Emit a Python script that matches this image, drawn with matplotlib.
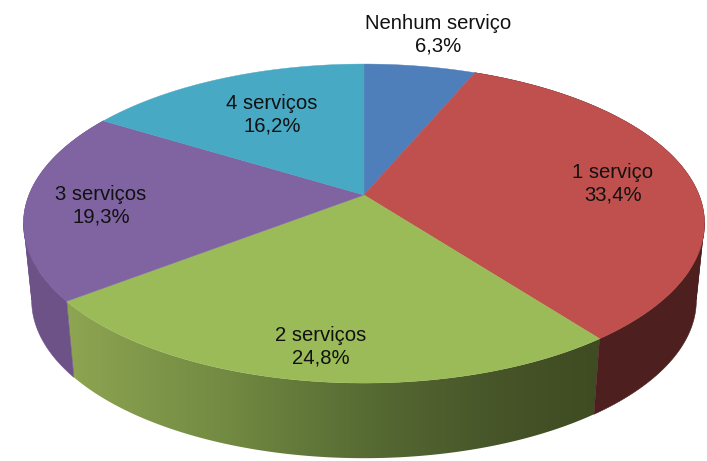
import numpy as np
import matplotlib
matplotlib.use('Agg')
import matplotlib.pyplot as plt
from matplotlib.colors import LinearSegmentedColormap
from matplotlib.patches import Polygon

plt.rcParams['font.family'] = ['Liberation Sans', 'DejaVu Sans']

categories = ['Nenhum serviço', '1 serviço', '2 serviços', '3 serviços', '4 serviços']
shares = [6.3, 33.4, 24.8, 19.3, 16.2]
share_labels = ['6,3%', '33,4%', '24,8%', '19,3%', '16,2%']
top_colors = ['#4f7fba', '#c0504d', '#9bbb59', '#8064a2', '#48a9c4']
label_pos = [(438, 35), (613, 184), (321, 347), (101, 206), (272, 115)]

# pie centre and perspective of the tilted disc, in pixels
cx, cy = 364, 195
k = 0.179
a = 154.4
b = 335.0
side_dx = 0.976
side_dy = 0.99
side_off = 77


def disc(theta):
    # theta clockwise from 12 o'clock, projected onto the tilted disc
    u = np.sin(theta)
    v = -np.cos(theta)
    d = 1 - k * v
    return b * u / d, a * v / d


def wedge_top(t0, t1):
    t = np.linspace(t0, t1, 200)
    x, y = disc(t)
    pts = np.column_stack([cx + x, cy + y])
    return np.vstack([[cx, cy], pts])


def wedge_side(t0, t1):
    t = np.linspace(t0, t1, 200)
    x, y = disc(t)
    up = np.column_stack([cx + x, cy + y])
    low = np.column_stack([cx + x * side_dx, cy + side_off + y * side_dy])
    return up, low


def add_rim(t0, t1, color):
    # split at the disc's widest point, the ribbon folds over itself there
    up, low = wedge_side(t0, t1)
    n = np.argmax(np.abs(up[:, 0] - cx))
    for s in [slice(None, n + 1), slice(n, None)]:
        pts = np.vstack([up[s], low[s][::-1]])
        ax.add_patch(Polygon(pts, closed=True, fc=color, ec=color, lw=0.4))


fig = plt.figure(figsize=(7.07, 4.61), dpi=100)
ax = fig.add_axes([0, 0, 1, 1])

edges = np.cumsum([0] + shares) / 100 * 2 * np.pi

# purple and red rims first, green goes over them
add_rim(edges[3], edges[4], '#6c5287')
add_rim(edges[1], edges[2], '#4d1f1f')

up, low = wedge_side(edges[2], edges[3])
green_side = Polygon(np.vstack([up, low[::-1]]), closed=True, fc='none', ec='none')
ax.add_patch(green_side)
green_cmap = LinearSegmentedColormap.from_list(
    'rim', [(0, '#8ea552'), (0.3, '#728a42'), (0.57, '#566a33'), (0.82, '#465428'), (1, '#3f4b22')])
grad = ax.imshow(np.linspace(0, 1, 256)[None, :], extent=[65, 601, 461, 300], cmap=green_cmap, aspect='auto')
grad.set_clip_path(green_side)

for i in range(len(shares)):
    top = Polygon(wedge_top(edges[i], edges[i + 1]), closed=True, fc=top_colors[i], ec=top_colors[i], lw=0.3)
    ax.add_patch(top)

for name, share, pos in zip(categories, share_labels, label_pos):
    ax.text(pos[0], pos[1], name + '\n' + share, ha='center', va='center', fontsize=14.6,
            color='#111111', linespacing=1.22)

ax.set_xlim(0, 707)
ax.set_ylim(461, 0)
ax.axis('off')

fig.savefig('out.png', dpi=100, facecolor='white')
